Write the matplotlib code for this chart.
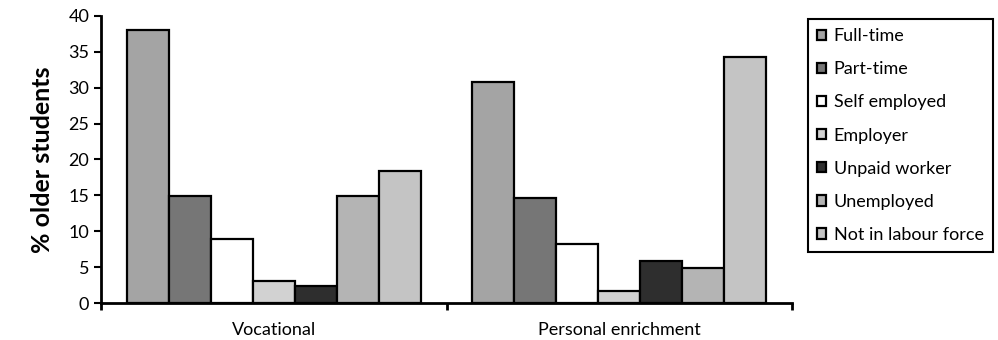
import numpy as np
import matplotlib
matplotlib.use('Agg')
import matplotlib.pyplot as plt

# data
categories = ['Vocational', 'Personal enrichment']
series = ['Full-time', 'Part-time', 'Self employed', 'Employer',
          'Unpaid worker', 'Unemployed', 'Not in labour force']
vocational = [38.0, 14.9, 8.9, 3.0, 2.4, 14.9, 18.4]
personal = [30.8, 14.7, 8.2, 1.7, 5.8, 4.9, 34.3]

colors = ['#a4a4a4', '#767676', '#ffffff', '#d2d2d2', '#2e2e2e', '#b4b4b4', '#c4c4c4']

plt.rcParams['font.family'] = ['Lato', 'DejaVu Sans']

fig = plt.figure(figsize=(9.98, 3.4), dpi=100)
ax = fig.add_axes([0.1012, 0.1088, 0.6924, 0.8442])

values = np.array([vocational, personal])
n = len(series)
group_w = 0.85
bar_w = group_w / n
x = np.arange(len(categories))

for i, name in enumerate(series):
    ax.bar(x - group_w / 2 + bar_w * (i + 0.5), values[:, i], width=bar_w,
           color=colors[i], edgecolor='black', linewidth=1.6, label=name)

ax.set_xlim(-0.5, 1.5)
ax.set_ylim(0, 40)
ax.set_yticks(range(0, 41, 5))
ax.set_xticks([-0.5, 0.5, 1.5])
ax.set_xticklabels([])
for xi, cat in zip(x, categories):
    ax.text(xi, -0.065, cat, transform=ax.get_xaxis_transform(),
            ha='center', va='top', fontsize=13)

ax.spines['top'].set_visible(False)
ax.spines['right'].set_visible(False)
ax.spines['left'].set_linewidth(2)
ax.spines['bottom'].set_linewidth(2)
ax.tick_params(axis='y', direction='out', length=5, width=1.5, labelsize=13)
ax.tick_params(axis='x', direction='out', length=5, width=2)

ax.set_ylabel('% older students', fontsize=18, fontweight='bold', labelpad=10)

leg = fig.legend(loc='upper left', bbox_to_anchor=(0.81, 0.944), fontsize=13,
                 handlelength=0.5, handleheight=0.5, handletextpad=0.4,
                 labelspacing=0.95, borderpad=0.5, borderaxespad=0,
                 fancybox=False, edgecolor='black', framealpha=1)
leg.get_frame().set_linewidth(1.5)

fig.savefig('out.png', dpi=100)
